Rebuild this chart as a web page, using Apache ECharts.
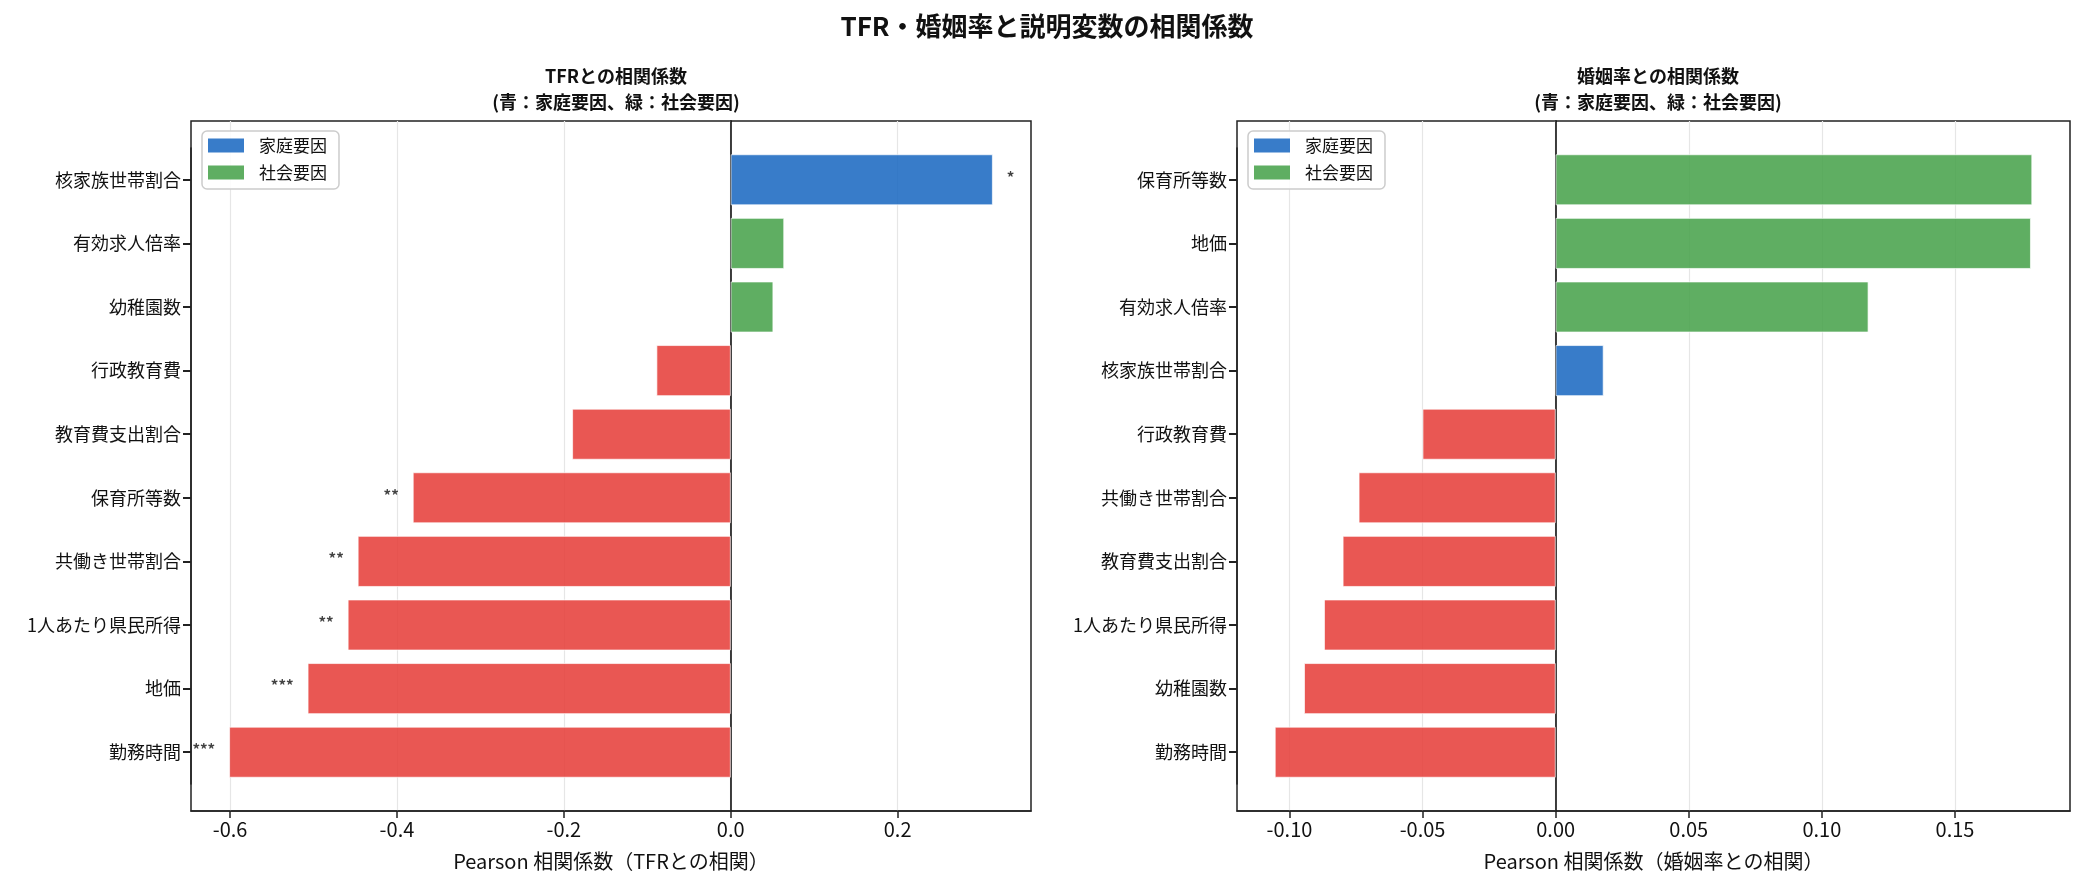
<!DOCTYPE html>
<html>
<head>
<meta charset="utf-8">
<script src="https://cdn.jsdelivr.net/npm/echarts@6/dist/echarts.min.js"></script>
<style>
  html, body { margin: 0; padding: 0; background: #fff; }
  #main { width: 2085px; height: 889px; }
</style>
</head>
<body>
<div id="main"></div>
<script>
// 左：TFRとの相関（上から順）
var tfrNames = ['核家族世帯割合', '有効求人倍率', '幼稚園数', '行政教育費', '教育費支出割合',
  '保育所等数', '共働き世帯割合', '1人あたり県民所得', '地価', '勤務時間'];
var tfrValues = [0.314, 0.064, 0.051, -0.089, -0.190, -0.381, -0.447, -0.459, -0.507, -0.601];
var tfrGroups = ['家庭', '社会', '社会', '社会', '家庭', '社会', '家庭', '家庭', '社会', '家庭'];
var tfrStars = ['*', '', '', '', '', '**', '**', '**', '***', '***'];

// 右：婚姻率との相関（上から順）
var marNames = ['保育所等数', '地価', '有効求人倍率', '核家族世帯割合', '行政教育費',
  '共働き世帯割合', '教育費支出割合', '1人あたり県民所得', '幼稚園数', '勤務時間'];
var marValues = [0.179, 0.1785, 0.1175, 0.018, -0.050, -0.074, -0.080, -0.087, -0.0945, -0.1055];
var marGroups = ['社会', '社会', '社会', '家庭', '社会', '家庭', '家庭', '家庭', '社会', '家庭'];
var marStars = ['', '', '', '', '', '', '', '', '', ''];

var tfrTicks = [-0.6, -0.4, -0.2, 0.0, 0.2];
var marTicks = [-0.10, -0.05, 0.00, 0.05, 0.10, 0.15];

var FONT = '"Noto Sans CJK JP", "Noto Sans", sans-serif';
var BLUE = '#1565C0', GREEN = '#43A047', RED = '#E53935';

function barData(values, groups, stars) {
  return values.map(function (v, i) {
    return {
      value: v,
      itemStyle: { color: v < 0 ? RED : (groups[i] === '家庭' ? BLUE : GREEN) },
      label: {
        show: stars[i] !== '',
        position: v < 0 ? 'left' : 'right',
        formatter: stars[i]
      }
    };
  });
}

function frameX(idx, min, max, ticks, digits, name) {
  return {
    type: 'value', gridIndex: idx, min: min, max: max, splitNumber: 5,
    name: name, nameLocation: 'middle', nameGap: 40,
    nameTextStyle: { fontFamily: FONT, fontSize: 20, color: '#111' },
    axisLine: { show: true, lineStyle: { color: '#222', width: 1.5 } },
    axisTick: { show: true, length: 7, customValues: ticks, lineStyle: { color: '#222', width: 1.5 } },
    axisLabel: {
      customValues: ticks, fontFamily: FONT, fontSize: 20, color: '#111', margin: 8,
      formatter: function (v) { return v.toFixed(digits); }
    },
    splitLine: { show: true, lineStyle: { color: '#e6e6e6', width: 1.2 } }
  };
}

function barX(idx, min, max) {
  return { type: 'value', gridIndex: idx, min: min, max: max, show: false, splitLine: { show: false } };
}

function zeroY(idx) {
  return {
    type: 'value', gridIndex: idx, min: 0, max: 1,
    axisLine: { show: true, onZero: true, lineStyle: { color: '#000', width: 1.5 } },
    axisTick: { show: false }, axisLabel: { show: false }, splitLine: { show: false }
  };
}

function catY(idx, names) {
  return {
    type: 'category', gridIndex: idx, data: names, inverse: true, position: 'left',
    axisLine: { show: true, onZero: false, lineStyle: { color: '#222', width: 1.5 } },
    axisTick: { show: true, inside: false, alignWithLabel: true, length: 8, lineStyle: { color: '#222', width: 2 } },
    axisLabel: { fontFamily: FONT, fontSize: 18, color: '#111', margin: 10 },
    splitLine: { show: false }
  };
}

function legendAt(left) {
  return {
    left: left, top: 131, orient: 'vertical',
    icon: 'rect', itemWidth: 36, itemHeight: 14, itemGap: 10,
    padding: [6, 12, 8, 6],
    borderColor: '#cccccc', borderWidth: 1.5, borderRadius: 5,
    backgroundColor: 'rgba(255,255,255,0.85)',
    textStyle: { fontFamily: FONT, fontSize: 17, color: '#111', padding: [0, 0, 0, 10] },
    selectedMode: false,
    data: [
      { name: '家庭要因', itemStyle: { color: BLUE, opacity: 0.85 } },
      { name: '社会要因', itemStyle: { color: GREEN, opacity: 0.85 } }
    ]
  };
}

var barStyle = { borderColor: '#ffffff', borderWidth: 0.8, opacity: 0.85 };
var starLabel = { distance: 14, fontFamily: FONT, fontSize: 15, fontWeight: 'bold', color: '#222', offset: [0, -3] };

var chart = echarts.init(document.getElementById('main'));
chart.setOption({
  backgroundColor: '#ffffff',
  animation: false,
  title: [
    { text: 'TFR・婚姻率と説明変数の相関係数', left: 1042, top: 8, textAlign: 'center',
      textStyle: { fontFamily: FONT, fontSize: 26, fontWeight: 'bold', color: '#111' } },
    { text: 'TFRとの相関係数\n(青：家庭要因、緑：社会要因)', left: 611, top: 58, textAlign: 'center',
      textStyle: { fontFamily: FONT, fontSize: 18, fontWeight: 'bold', color: '#111', lineHeight: 26 } },
    { text: '婚姻率との相関係数\n(青：家庭要因、緑：社会要因)', left: 1653, top: 58, textAlign: 'center',
      textStyle: { fontFamily: FONT, fontSize: 18, fontWeight: 'bold', color: '#111', lineHeight: 26 } }
  ],
  legend: [legendAt(202), legendAt(1248)],
  grid: [
    { left: 191, right: 1054, top: 121, bottom: 78, show: true, borderColor: '#222', borderWidth: 1.5, backgroundColor: 'transparent' },
    { left: 191, right: 1054, top: 148, bottom: 105 },
    { left: 1237, right: 15, top: 121, bottom: 78, show: true, borderColor: '#222', borderWidth: 1.5, backgroundColor: 'transparent' },
    { left: 1237, right: 15, top: 148, bottom: 105 }
  ],
  xAxis: [
    frameX(0, -0.6468, 0.3598, tfrTicks, 1, 'Pearson 相関係数（TFRとの相関）'),
    barX(1, -0.6468, 0.3598),
    frameX(2, -0.1197, 0.1932, marTicks, 2, 'Pearson 相関係数（婚姻率との相関）'),
    barX(3, -0.1197, 0.1932)
  ],
  yAxis: [
    zeroY(0),
    catY(1, tfrNames),
    zeroY(2),
    catY(3, marNames)
  ],
  series: [
    { name: 'TFR', type: 'bar', xAxisIndex: 1, yAxisIndex: 1, barWidth: '80%',
      itemStyle: barStyle, label: starLabel, data: barData(tfrValues, tfrGroups, tfrStars) },
    { name: '婚姻率', type: 'bar', xAxisIndex: 3, yAxisIndex: 3, barWidth: '80%',
      itemStyle: barStyle, label: starLabel, data: barData(marValues, marGroups, marStars) },
    { name: '家庭要因', type: 'line', xAxisIndex: 0, yAxisIndex: 0, data: [],
      itemStyle: { color: BLUE } },
    { name: '社会要因', type: 'line', xAxisIndex: 0, yAxisIndex: 0, data: [],
      itemStyle: { color: GREEN } }
  ]
});
</script>
</body>
</html>
